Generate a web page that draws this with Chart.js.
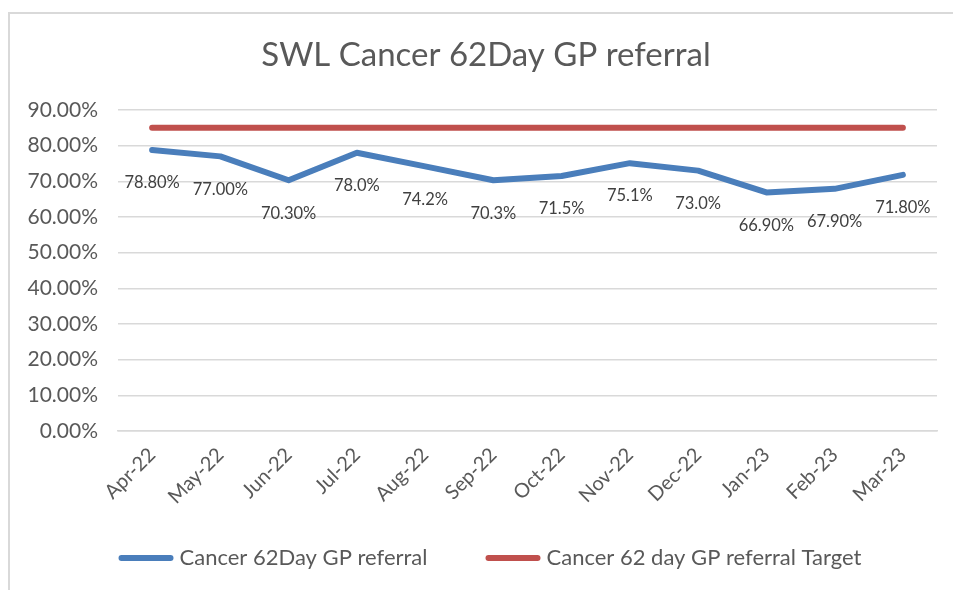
<!DOCTYPE html>
<html>
<head>
<meta charset="utf-8">
<script src="https://cdn.jsdelivr.net/npm/chart.js@4.4.1/dist/chart.umd.min.js"></script>
<style>
  body { margin: 0; background: #fff; }
  #wrap { width: 953px; height: 590px; position: relative; }
</style>
</head>
<body>
<div id="wrap"><canvas id="myChart" width="953" height="590"></canvas></div>
<script>
let months = ['Apr-22','May-22','Jun-22','Jul-22','Aug-22','Sep-22','Oct-22','Nov-22','Dec-22','Jan-23','Feb-23','Mar-23'];
let referral = [78.8, 77.0, 70.3, 78.0, 74.2, 70.3, 71.5, 75.1, 73.0, 66.9, 67.9, 71.8];
let target = [85, 85, 85, 85, 85, 85, 85, 85, 85, 85, 85, 85];
let pointLabels = ['78.80%','77.00%','70.30%','78.0%','74.2%','70.3%','71.5%','75.1%','73.0%','66.90%','67.90%','71.80%'];
let chartTitle = 'SWL Cancer 62Day GP referral';

const FONT = 'Lato, "Open Sans", sans-serif';
const GREY = '#595959';

// light frame at left/top like the pasted excel chart
const framePlugin = {
  id: 'frame',
  beforeDraw(chart) {
    let c = chart.ctx;
    c.save();
    c.strokeStyle = '#d9d9d9';
    c.lineWidth = 2;
    c.beginPath();
    c.moveTo(9, 590);
    c.lineTo(9, 13);
    c.lineTo(953, 13);
    c.stroke();
    c.restore();
  }
};

// title + legend drawn by hand so they sit where excel put them
const headerFooter = {
  id: 'headerFooter',
  afterDraw(chart) {
    let c = chart.ctx;
    c.save();
    c.fillStyle = GREY;
    c.textBaseline = 'middle';
    c.textAlign = 'center';
    c.font = '33px ' + FONT;
    c.fillText(chartTitle, 486, 55);

    c.font = '22px ' + FONT;
    c.textAlign = 'left';
    let boxW = 55, gap = 6, itemGap = 58;
    let items = chart.data.datasets.map(ds => ({ text: ds.label, color: ds.borderColor, w: c.measureText(ds.label).width }));
    let total = items.reduce((s, it) => s + boxW + gap + it.w, 0) + itemGap * (items.length - 1);
    let x = 490 - total / 2;
    let y = 558;
    items.forEach(it => {
      c.strokeStyle = it.color;
      c.lineWidth = 6;
      c.lineCap = 'round';
      c.beginPath();
      c.moveTo(x + 3, y);
      c.lineTo(x + boxW - 3, y);
      c.stroke();
      c.fillText(it.text, x + boxW + gap, y);
      x += boxW + gap + it.w + itemGap;
    });
    c.restore();
  }
};

// value labels under the blue line
const labelPlugin = {
  id: 'valueLabels',
  afterDatasetsDraw(chart) {
    let c = chart.ctx;
    let meta = chart.getDatasetMeta(0);
    c.save();
    c.font = '16.5px ' + FONT;
    c.fillStyle = '#404040';
    c.textAlign = 'center';
    c.textBaseline = 'middle';
    meta.data.forEach((pt, i) => {
      c.fillText(pointLabels[i], pt.x, pt.y + 33);
    });
    c.restore();
  }
};

let ctx = document.getElementById('myChart').getContext('2d');
let myChart = new Chart(ctx, {
  type: 'line',
  data: {
    labels: months,
    datasets: [{
      label: 'Cancer 62Day GP referral',
      data: referral,
      borderColor: '#4a7ebb',
      backgroundColor: '#4a7ebb',
      borderWidth: 6,
      pointRadius: 0,
      borderCapStyle: 'round',
      borderJoinStyle: 'round',
      tension: 0
    }, {
      label: 'Cancer 62 day GP referral Target',
      data: target,
      borderColor: '#c0504d',
      backgroundColor: '#c0504d',
      borderWidth: 6,
      pointRadius: 0,
      borderCapStyle: 'round'
    }]
  },
  options: {
    responsive: false,
    animation: false,
    layout: { padding: { left: 18, right: 16, top: 110, bottom: 77 } },
    plugins: {
      title: { display: false },
      legend: { display: false },
      tooltip: { enabled: false }
    },
    scales: {
      x: {
        offset: true,
        grid: { display: false },
        border: { color: '#d9d9d9', width: 1.5 },
        ticks: {
          color: GREY,
          font: { family: FONT, size: 20 },
          minRotation: 45,
          maxRotation: 45,
          padding: 4
        },
        afterFit(scale) { scale.height = 82; }
      },
      y: {
        min: 0,
        max: 90,
        grid: { color: '#d9d9d9', lineWidth: 1.5, drawTicks: false },
        border: { display: false },
        ticks: {
          stepSize: 10,
          color: GREY,
          font: { family: FONT, size: 21 },
          padding: 20,
          callback: v => v.toFixed(2) + '%'
        },
        afterFit(scale) { scale.width = 100; }
      }
    }
  },
  plugins: [framePlugin, labelPlugin, headerFooter]
});
</script>
</body>
</html>
